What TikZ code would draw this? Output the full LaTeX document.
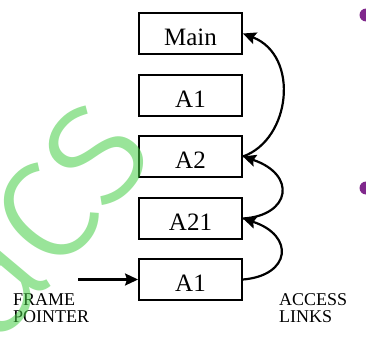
\documentclass[tikz,border=0pt]{standalone}
\usepackage{fontspec}
\setmainfont{Liberation Serif}
\newfontfamily\wmfont{Fira Sans}[UprightFont={* Light}, LetterSpace=-3]
\usetikzlibrary{arrows.meta}
\definecolor{wmgreen}{RGB}{70,205,70}
\definecolor{dotpurple}{RGB}{128,40,140}
\tikzset{
  frame/.style={draw=black, line width=1.9pt, fill=white, minimum width=103pt, minimum height=41pt,
    inner sep=0pt, text height=24pt, text depth=0pt, font=\fontsize{25}{29}\selectfont},
  lbl/.style={inner sep=0pt, anchor=base west, font=\fontsize{18}{20}\selectfont},
  link/.style={line width=2.2pt, -{Stealth[length=13pt,width=12pt,inset=2pt]}},
}
\begin{document}
\begin{tikzpicture}[x=1pt,y=-1pt]
\useasboundingbox (0,0) rectangle (366,337);
\clip (0,0) rectangle (366,337);
% bullets
\fill[dotpurple] (366,15) circle (6.5);
\fill[dotpurple] (366,188) circle (6.5);
% frames
\node[frame] (main) at (190.5,33.5) {Main};
\node[frame] (a1top) at (190.5,95.5) {A1};
\node[frame] (a2) at (190.5,156.5) {A2};
\node[frame] (a21) at (190.5,218.5) {A21};
\node[frame] (a1) at (190.5,279.5) {A1};
% labels
\node[lbl] (fr) at (13,305) {FRAME};
\node[lbl] (po) at (13,322) {POINTER};
\node[lbl] (ac) at (279,305) {ACCESS};
\node[lbl] (li) at (279,322) {LINKS};
% frame pointer
\coordinate (fpstart) at (78,279.5);
\draw[link] (fpstart) -- (a1.west);
% access links
\draw[link] (a1.east) .. controls +(48,-4) and +(52,17) .. (a21.east);
\draw[link] (a21.east) .. controls +(48,-3) and +(54,18) .. (a2.east);
\draw[link] (a2.east) .. controls +(48,-17) and +(57,22) .. (main.east);
% watermark
\node[text=wmgreen, text opacity=0.55, rotate=50, inner sep=0pt, font=\wmfont\fontsize{182}{185}\selectfont] (wm) at (41,221) {acs};
\end{tikzpicture}
\end{document}
